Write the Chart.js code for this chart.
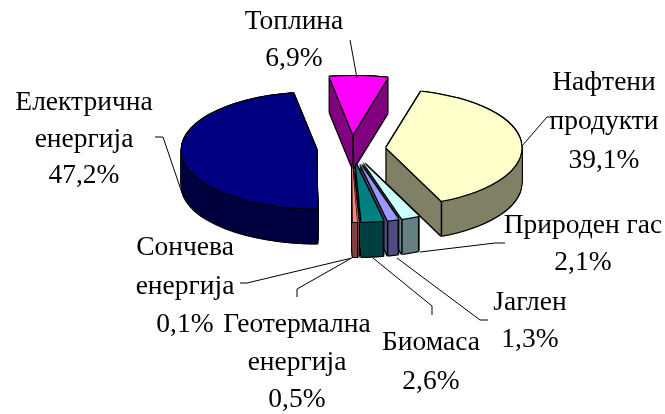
<!DOCTYPE html>
<html>
<head>
<meta charset="utf-8">
<script src="https://cdn.jsdelivr.net/npm/chart.js@4"></script>
<style>
  html, body { margin: 0; padding: 0; background: #fff; }
  #wrap { width: 665px; height: 414px; }
</style>
</head>
<body>
<div id="wrap"><canvas id="pie"></canvas></div>
<script>
// values, clockwise from the top slice
const categories = ["Топлина", "Нафтени продукти", "Природен гас", "Јаглен", "Биомаса", "Сончева енергија", "Геотермална енергија", "Електрична енергија"];
const shares = [6.9, 39.1, 2.1, 1.3, 2.6, 0.1, 0.5, 47.2];

const topColors = ["#FF00FF", "#FFFFCC", "#CCFFFF", "#9999FF", "#008080", "#FF8080", "#FF8080", "#000080"];
const sideColors = ["#800080", "#808066", "#668080", "#4D4D80", "#004040", "#804040", "#804040", "#000040"];

// label lines and where they sit: [centre x, y of first line, line step]
const nameLines = [["Топлина"], ["Нафтени", "продукти"], ["Природен гас"], ["Јаглен"], ["Биомаса"], ["Сончева", "енергија"], ["Геотермална", "енергија"], ["Електрична", "енергија"]];
const labelSpots = [[294, 22, 37], [604, 83, 39], [583, 226, 36.5], [530, 303, 37], [431, 343, 39], [185, 248, 38.5], [297, 325, 37.5], [84, 103, 36.5]];
const leaders = [
  [[350, 40], [357, 78]],
  [[552, 117], [547, 117], [522, 146]],
  [[505, 243], [495, 243], [420, 252]],
  [[488, 320], [480, 320], [397, 258]],
  [[432, 315], [432, 306], [373, 258]],
  [[240, 283], [247, 283], [352, 258]],
  [[297, 297], [297, 289], [350, 259]],
  [[155, 137], [163, 137], [182, 193]]
];

const squash = 0.43;  // pie tilt
const depth = 35;     // height of the slices
const explode = 35;   // px each slice is pulled out
const rimRadius = 135;

function drawArc(ctx, el, color, dx, dy) {
  const saved = el.options;
  el.options = { ...saved, backgroundColor: color, borderWidth: 0 };
  ctx.save();
  ctx.translate(el.x + dx, el.y + dy);
  ctx.scale(1, squash);
  ctx.translate(-el.x, -el.y);
  el.draw(ctx);
  ctx.restore();
  el.options = saved;
}

function rimPoint(el, angle, radius) {
  const mid = (el.startAngle + el.endAngle) / 2;
  const x = el.x + Math.cos(mid) * explode + Math.cos(angle) * radius;
  const y = el.y + (Math.sin(mid) * explode + Math.sin(angle) * radius) * squash;
  return [x, y];
}

function verticalEdge(ctx, p) {
  ctx.beginPath();
  ctx.moveTo(p[0], p[1]);
  ctx.lineTo(p[0], p[1] + depth);
  ctx.stroke();
}

const solidPie = {
  id: "solidPie",
  afterDatasetsUpdate(chart) {
    // arc.draw grows the radius and trims the angle when offset is set, undo it
    chart.getDatasetMeta(0).data.forEach((el) => {
      const grow = explode * (1 - Math.sin(Math.min(Math.PI, el.circumference)));
      const trim = grow / Math.PI / rimRadius;
      el.rimStart = el.startAngle;
      el.rimEnd = el.endAngle;
      el.outerRadius = rimRadius - grow;
      el.startAngle -= trim / 2;
      el.endAngle += trim / 2;
    });
  },
  beforeDatasetsDraw(chart) {
    const ctx = chart.ctx;
    const arcs = chart.getDatasetMeta(0).data;
    const around = [[-1, -1], [1, -1], [-1, 1], [1, 1]];
    arcs.forEach((el, i) => {
      // black silhouette
      for (let d = 0; d <= depth; d++) {
        around.forEach((o) => drawArc(ctx, el, "#000", o[0], d + o[1]));
      }
      // side wall
      for (let d = depth; d >= 1; d--) {
        drawArc(ctx, el, sideColors[i], 0, d);
      }
      // rim of the top face
      around.forEach((o) => drawArc(ctx, el, "#000", o[0], o[1]));

      ctx.save();
      ctx.strokeStyle = "#000";
      ctx.lineWidth = 1.5;
      if (i === 0) verticalEdge(ctx, rimPoint(el, 0, 0));
      [el.rimStart, el.rimEnd].forEach((a) => {
        if (Math.sin(a) > 0 && Math.cos(a) > 0.1) verticalEdge(ctx, rimPoint(el, a, rimRadius));
      });
      ctx.restore();
    });
  },
  beforeDatasetDraw(chart) {
    const ctx = chart.ctx;
    const el = chart.getDatasetMeta(0).data[0];
    ctx.save();
    ctx.translate(el.x, el.y);
    ctx.scale(1, squash);
    ctx.translate(-el.x, -el.y);
  },
  afterDatasetDraw(chart) {
    chart.ctx.restore();
  },
  afterDatasetsDraw(chart) {
    const ctx = chart.ctx;
    ctx.save();
    ctx.strokeStyle = "#000";
    ctx.lineWidth = 1;
    leaders.forEach((pts) => {
      ctx.beginPath();
      pts.forEach((p, j) => (j ? ctx.lineTo(p[0], p[1]) : ctx.moveTo(p[0], p[1])));
      ctx.stroke();
    });
    ctx.fillStyle = "#000";
    ctx.font = '27.5px "Liberation Serif"';
    ctx.textAlign = "center";
    ctx.textBaseline = "middle";
    nameLines.forEach((lines, i) => {
      const spot = labelSpots[i];
      const all = lines.concat(shares[i].toFixed(1).replace(".", ",") + "%");
      all.forEach((t, j) => ctx.fillText(t, spot[0], spot[1] + j * spot[2]));
    });
    ctx.restore();
  }
};

new Chart(document.getElementById("pie"), {
  type: "pie",
  data: {
    labels: categories,
    datasets: [{
      data: shares,
      backgroundColor: topColors,
      borderWidth: 0,
      offset: explode * 4,   // arc draws offset / 4
      clip: false
    }]
  },
  options: {
    responsive: true,
    maintainAspectRatio: false,
    animation: false,
    radius: rimRadius,
    rotation: -10,
    layout: { padding: { left: 38, top: 0, right: 0, bottom: 116 } },
    plugins: { legend: { display: false }, tooltip: { enabled: false } }
  },
  plugins: [solidPie]
});
</script>
</body>
</html>
